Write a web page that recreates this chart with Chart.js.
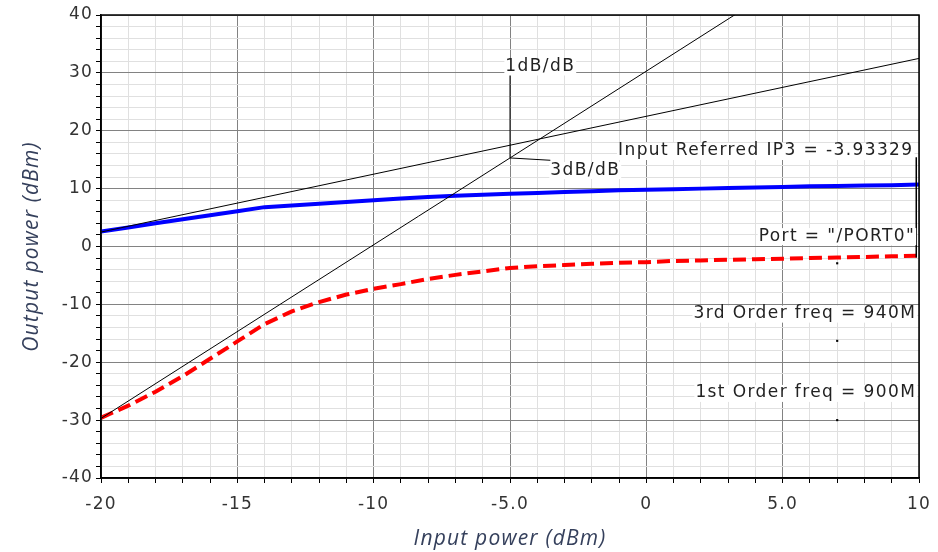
<!DOCTYPE html>
<html>
<head>
<meta charset="utf-8">
<script src="https://cdn.jsdelivr.net/npm/chart.js@4.4.1/dist/chart.umd.min.js"></script>
<style>
  html, body { margin: 0; padding: 0; background: #fff; }
  #wrap { width: 938px; height: 552px; }
</style>
</head>
<body>
<div id="wrap"><canvas id="ip3Chart"></canvas></div>
<script>
// input sweep (dBm)
const inputPower = [-20, -19, -18, -17, -16, -15, -14, -13, -12, -11, -10, -9, -8, -7, -6, -5,
  -4, -3, -2, -1, 0, 1, 2, 3, 4, 5, 6, 7, 8, 9, 10];
// 1st order output, 900M
const firstOrder = [2.6, 3.3, 4.0, 4.7, 5.4, 6.1, 6.8, 7.1, 7.4, 7.7, 8.0, 8.3, 8.55, 8.75, 8.95, 9.1,
  9.25, 9.4, 9.55, 9.7, 9.8, 9.9, 10.0, 10.1, 10.2, 10.3, 10.4, 10.45, 10.55, 10.6, 10.7];
// 3rd order output, 940M
const thirdOrder = [-29.6, -27.5, -25.1, -22.4, -19.4, -16.4, -13.4, -11.2, -9.6, -8.3, -7.3, -6.5, -5.6, -4.9, -4.3, -3.7,
  -3.4, -3.2, -3.0, -2.8, -2.7, -2.5, -2.4, -2.3, -2.2, -2.1, -2.0, -1.9, -1.8, -1.7, -1.6];

// extrapolated 1dB/dB and 3dB/dB lines
const slopeX = [-20, 10];
const oneDbLine = [2.5, 32.5];
const threeDbLine = [-29.7, 60.3];

// leader lines for the marker labels
const oneDbLeaderX = [-5, -5];
const oneDbLeaderY = [15.3, 32.5];
const threeDbLeaderX = [-5, -3.52];
const threeDbLeaderY = [15.3, 14.9];
const ip3LeaderX = [9.9, 9.9];
const ip3LeaderY = [15.4, -1.9];

// label anchor dots
const dotX = [7, 7, 7];
const dotY = [-2.9, -16.3, -30];

const xTickValues = [-20, -15, -10, -5, 0, 5, 10];
const xTickLabels = ["-20", "-15", "-10", "-5.0", "0", "5.0", "10"];
const yTickValues = [-40, -30, -20, -10, 0, 10, 20, 30, 40];
const yTickLabels = ["-40", "-30", "-20", "-10", "0", "10", "20", "30", "40"];

const ip3Value = -3.93329;
const noteTexts = ["1dB/dB", "3dB/dB", "Input Referred IP3 = " + ip3Value, "Port = \"/PORT0\"",
  "3rd Order freq = 940M", "1st Order freq = 900M"];
const noteX = [-5.17, -3.52, 9.8, 9.86, 9.9, 9.9];
const noteY = [31.1, 13.2, 16.5, 1.8, -11.6, -25.3];
const noteAlign = ["left", "left", "right", "right", "right", "right"];

const toPoints = (xs, ys) => xs.map((x, i) => ({ x: x, y: ys[i] }));

const majorGrid = "#828282";
const minorGrid = "#e0e0e0";
const tickFont = { family: "DejaVu Sans", size: 17 };
const titleFont = { family: "Open Sans", size: 21, style: "italic" };
const titleColor = "#35405c";

const thinLine = (pts) => ({
  data: pts,
  showLine: true,
  borderColor: "#000",
  borderWidth: 1,
  pointRadius: 0,
  order: 0
});

const frame = {
  id: "frame",
  beforeDraw(chart) {
    chart.ctx.letterSpacing = "1.2px";
  },
  afterDatasetsDraw(chart) {
    const { ctx, chartArea: a, scales: { x, y } } = chart;
    ctx.save();
    ctx.strokeStyle = "#000";
    ctx.lineWidth = 1.5;
    ctx.strokeRect(a.left, a.top, a.right - a.left, a.bottom - a.top);

    ctx.font = "17px 'DejaVu Sans'";
    ctx.letterSpacing = "1.4px";
    ctx.textBaseline = "middle";
    ctx.textAlign = "left";
    noteTexts.forEach((t, i) => {
      const px = x.getPixelForValue(noteX[i]);
      const py = y.getPixelForValue(noteY[i]);
      const w = ctx.measureText(t).width;
      const left = noteAlign[i] === "right" ? px - w : px;
      ctx.fillStyle = "#fff";
      ctx.fillRect(left - 1, py - 8, w + 2, 17);
      ctx.fillStyle = "#222";
      ctx.fillText(t, left, py);
    });
    ctx.restore();
  }
};

const ctx = document.getElementById("ip3Chart");

new Chart(ctx, {
  type: "scatter",
  data: {
    datasets: [
      thinLine(toPoints(slopeX, oneDbLine)),
      thinLine(toPoints(slopeX, threeDbLine)),
      thinLine(toPoints(oneDbLeaderX, oneDbLeaderY)),
      thinLine(toPoints(threeDbLeaderX, threeDbLeaderY)),
      Object.assign(thinLine(toPoints(ip3LeaderX, ip3LeaderY)), { borderWidth: 1.5 }),
      {
        data: toPoints(dotX, dotY),
        pointStyle: "rect",
        pointRadius: 1.5,
        backgroundColor: "#000",
        borderWidth: 0,
        order: 0
      },
      {
        label: "3rd Order freq = 940M",
        data: toPoints(inputPower, thirdOrder),
        showLine: true,
        borderColor: "#ff0000",
        borderWidth: 4,
        borderDash: [13, 6],
        pointRadius: 0,
        order: 2
      },
      {
        label: "1st Order freq = 900M",
        data: toPoints(inputPower, firstOrder),
        showLine: true,
        borderColor: "#0000ff",
        borderWidth: 4,
        pointRadius: 0,
        order: 1
      }
    ]
  },
  options: {
    responsive: true,
    maintainAspectRatio: false,
    animation: false,
    layout: {
      padding: { left: 0, top: 15, right: 19, bottom: 0 }
    },
    plugins: {
      legend: { display: false },
      tooltip: { enabled: false }
    },
    scales: {
      x: {
        type: "linear",
        min: -20,
        max: 10,
        afterFit: (scale) => {
          scale.height = 74;
          scale.paddingLeft = 0;
          scale.paddingRight = 0;
        },
        ticks: {
          stepSize: 1,
          autoSkip: false,
          maxRotation: 0,
          padding: 11,
          color: "#333",
          font: tickFont,
          callback: (v) => {
            const i = xTickValues.indexOf(v);
            return i >= 0 ? xTickLabels[i] : "";
          }
        },
        grid: {
          color: (c) => (c.tick && c.tick.value % 5 === 0 ? majorGrid : minorGrid),
          tickColor: "#000",
          tickLength: 5
        },
        border: { color: "#000", width: 1.5 },
        title: {
          display: true,
          text: "Input power (dBm)",
          color: titleColor,
          font: titleFont,
          padding: 0
        }
      },
      y: {
        type: "linear",
        min: -40,
        max: 40,
        afterFit: (scale) => { scale.width = 101; },
        ticks: {
          stepSize: 2,
          autoSkip: false,
          padding: 3,
          color: "#333",
          font: tickFont,
          callback: (v) => {
            const i = yTickValues.indexOf(v);
            return i >= 0 ? yTickLabels[i] : "";
          }
        },
        grid: {
          color: (c) => (c.tick && c.tick.value % 10 === 0 ? majorGrid : minorGrid),
          tickColor: "#000",
          tickLength: 5
        },
        border: { color: "#000", width: 1.5 },
        title: {
          display: true,
          text: "Output power (dBm)",
          color: titleColor,
          font: titleFont,
          padding: { top: 19, bottom: 0 }
        }
      }
    }
  },
  plugins: [frame]
});
</script>
</body>
</html>
